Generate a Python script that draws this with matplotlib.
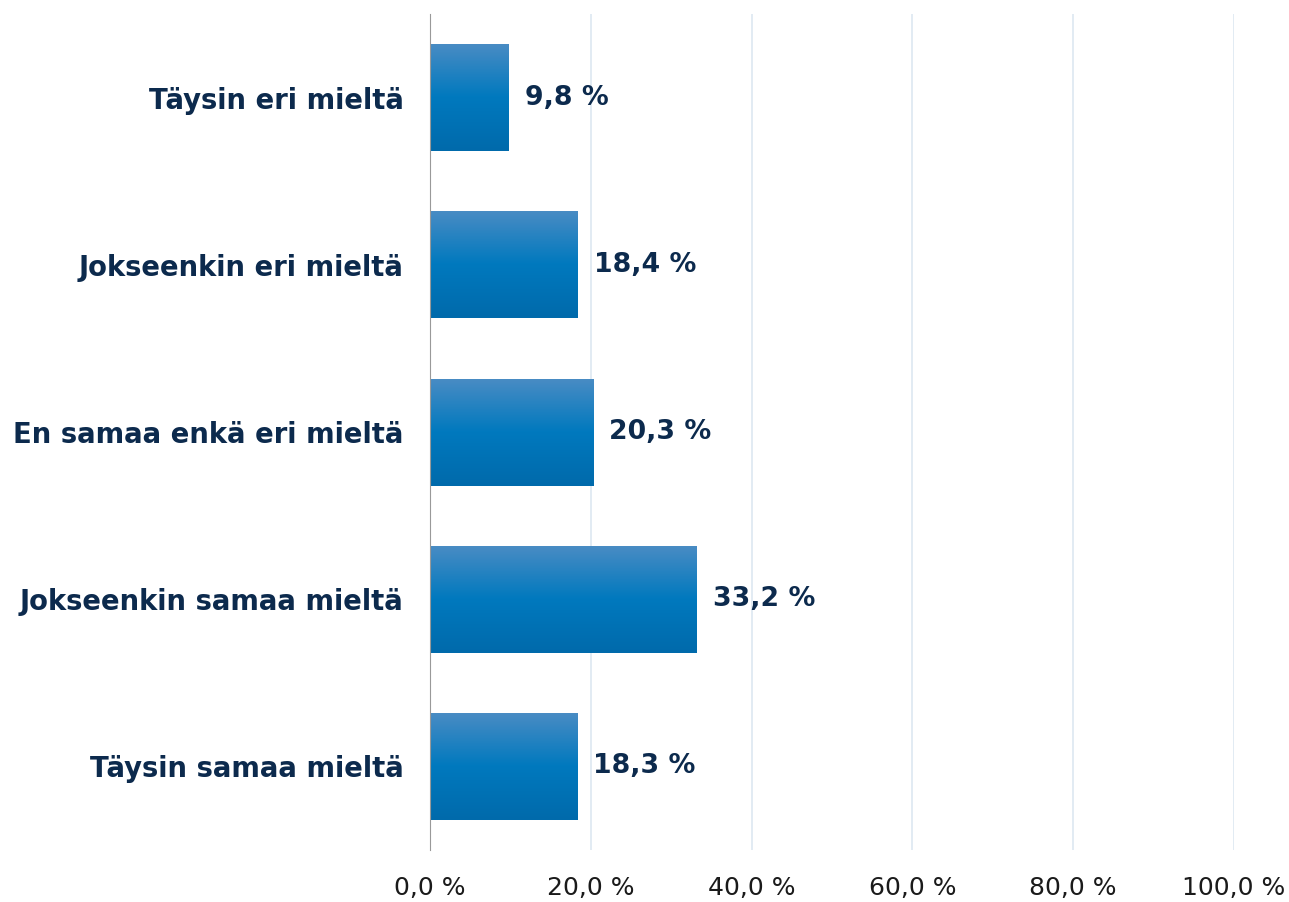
import numpy as np
import matplotlib
matplotlib.use("Agg")
import matplotlib.pyplot as plt
from matplotlib.colors import LinearSegmentedColormap

# ============================
# Data
# ============================

categories = [
    "Täysin eri mieltä",
    "Jokseenkin eri mieltä",
    "En samaa enkä eri mieltä",
    "Jokseenkin samaa mieltä",
    "Täysin samaa mieltä",
]
values = [9.8, 18.4, 20.3, 33.2, 18.3]
ticks = [0, 20, 40, 60, 80, 100]

navy = "#0c2a4d"
grad = LinearSegmentedColormap.from_list(
    "bar", ["#006aab", "#0079be", "#4a8cc4"]
)

# ============================
# Plot
# ============================

fig = plt.figure(figsize=(12.89, 9.02), dpi=100)
ax = fig.add_axes([0.3336, 0.0576, 0.6237, 0.9269])

y = np.arange(len(categories))
bars = ax.barh(y, values, height=0.64, color="#0077bd", zorder=2)

# vertical gradient inside each bar
g = np.linspace(0, 1, 256).reshape(-1, 1)
for b in bars:
    x0, y0 = b.get_x(), b.get_y()
    w, h = b.get_width(), b.get_height()
    im = ax.imshow(g, cmap=grad, aspect="auto", origin="lower",
                   extent=[x0, x0 + w, y0 + h, y0], zorder=3)
    im.set_clip_path(b)

ax.set_xlim(0, 100)
ax.set_ylim(len(categories) - 0.5, -0.5)

ax.set_xticks(ticks)
ax.set_xticklabels([f"{t},0 %" for t in ticks], fontsize=18,
                   fontfamily="DejaVu Sans", color="#1a1a1a")
ax.set_yticks(y)
ax.set_yticklabels(categories, fontsize=19.8, fontweight="bold",
                   fontfamily="DejaVu Sans", color=navy)
ax.tick_params(axis="both", length=0)
ax.tick_params(axis="x", pad=19)
ax.tick_params(axis="y", pad=19)

ax.grid(axis="x", color="#dde7f1", linewidth=1.2, zorder=0)
for s in ["top", "right", "bottom"]:
    ax.spines[s].set_visible(False)
ax.spines["left"].set_color("#999999")
ax.spines["left"].set_zorder(4)

for yi, v in zip(y, values):
    ax.text(v + 2.0, yi, f"{v:.1f} %".replace(".", ","), va="center",
            ha="left", fontsize=19.3, fontweight="bold",
            fontfamily="DejaVu Sans", color=navy, zorder=5)

fig.savefig("out.png", dpi=100)
plt.close(fig)
